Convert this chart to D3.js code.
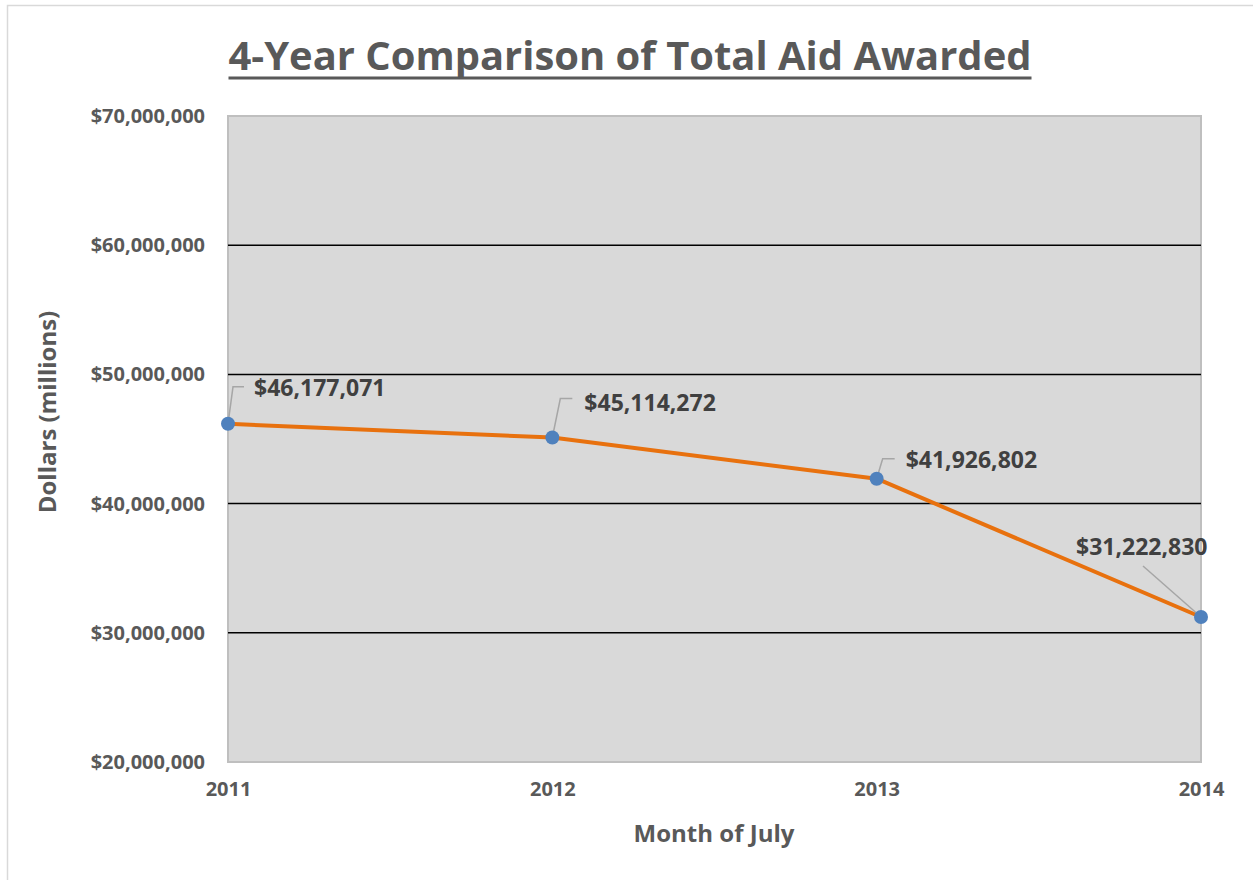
<!DOCTYPE html>
<html><head><meta charset="utf-8">
<script src="https://cdn.jsdelivr.net/npm/d3@7"></script>
<style>body{margin:0;background:#fff}svg{display:block}text{font-family:"Open Sans",Lato,sans-serif;font-weight:bold}</style>
</head><body>
<script>
const years = ["2011","2012","2013","2014"];
const aid = [46177071, 45114272, 41926802, 31222830];
const yTicks = [20000000,30000000,40000000,50000000,60000000,70000000];
const titleText = "4-Year Comparison of Total Aid Awarded";
const xTitle = "Month of July";
const yTitle = "Dollars (millions)";

const W=1253,H=880;
const svg=d3.select("body").append("svg").attr("width",W).attr("height",H);
svg.append("rect").attr("x",7.5).attr("y",5.5).attr("width",W).attr("height",H).attr("fill","#fff").attr("stroke","#d9d9d9").attr("stroke-width",1.5);

const L=228,R=1201,T=116,B=762;
const x=d3.scalePoint().domain(years).range([L,R]);
const y=d3.scaleLinear().domain([20000000,70000000]).range([B,T]);

svg.append("rect").attr("x",L).attr("y",T).attr("width",R-L).attr("height",B-T).attr("fill","#d9d9d9").attr("stroke","#bfbfbf").attr("stroke-width",2);

// gridlines
svg.append("g").selectAll("line").data(yTicks.filter(v=>v>20000000&&v<70000000)).join("line")
 .attr("x1",L).attr("x2",R).attr("y1",d=>y(d)).attr("y2",d=>y(d)).attr("stroke","#000").attr("stroke-width",1.5);

const fmt=d=>"$"+d3.format(",")(d);
// y axis
const ya=svg.append("g").attr("transform",`translate(${L},0)`).call(d3.axisLeft(y).tickValues(yTicks).tickFormat(fmt).tickSize(0).tickPadding(23));
ya.select(".domain").remove();
ya.selectAll("text").attr("fill","#595959").style("font-size","20px").attr("font-family",null);
// x axis
const xa=svg.append("g").attr("transform",`translate(0,${B})`).call(d3.axisBottom(x).tickSize(0).tickPadding(20));
xa.select(".domain").remove();
xa.selectAll("text").attr("fill","#595959").style("font-size","20px").attr("font-family",null);

// axis titles
svg.append("text").attr("x",714).attr("y",842).attr("text-anchor","middle").attr("fill","#595959").style("font-size","24px").text(xTitle);
svg.append("text").attr("transform","translate(56,412) rotate(-90)").attr("text-anchor","middle").attr("fill","#595959").style("font-size","24px").text(yTitle);

// title
const t=svg.append("text").attr("x",630).attr("y",70).attr("text-anchor","middle").attr("fill","#595959").style("font-size","40px").text(titleText);
t.attr("textLength",803).attr("lengthAdjust","spacingAndGlyphs");
svg.append("line").attr("x1",630-401.5).attr("x2",630+401.5).attr("y1",78).attr("y2",78).attr("stroke","#595959").attr("stroke-width",3);

// line
const line=d3.line().x((d,i)=>x(years[i])).y(d=>y(d));
svg.append("path").datum(aid).attr("d",line).attr("fill","none").attr("stroke","#e8710e").attr("stroke-width",4).attr("stroke-linejoin","round");

// leader lines & labels (offsets from point)
const lab=[
 {lx:26,ly:-28,pts:[[0,0],[5,-37],[16,-37]]},
 {lx:32,ly:-27,pts:[[0,0],[8,-39],[20,-39]]},
 {lx:29,ly:-11,pts:[[0,0],[6,-20],[18,-20]]},
 {lx:-125,ly:-62,pts:[[0,0],[-58,-51]]}
];
aid.forEach((v,i)=>{
 const px=x(years[i]),py=y(v),o=lab[i];
 svg.append("polyline").attr("points",o.pts.map(p=>[px+p[0],py+p[1]].join(",")).join(" ")).attr("fill","none").attr("stroke","#a6a6a6").attr("stroke-width",1.5);
});
svg.append("g").selectAll("circle").data(aid).join("circle").attr("cx",(d,i)=>x(years[i])).attr("cy",d=>y(d)).attr("r",7).attr("fill","#4f81bd");
aid.forEach((v,i)=>{
 const px=x(years[i]),py=y(v),o=lab[i];
 svg.append("text").attr("x",px+o.lx).attr("y",py+o.ly).attr("fill","#404040").style("font-size","23px").text(fmt(v));
});
</script>
</body></html>
